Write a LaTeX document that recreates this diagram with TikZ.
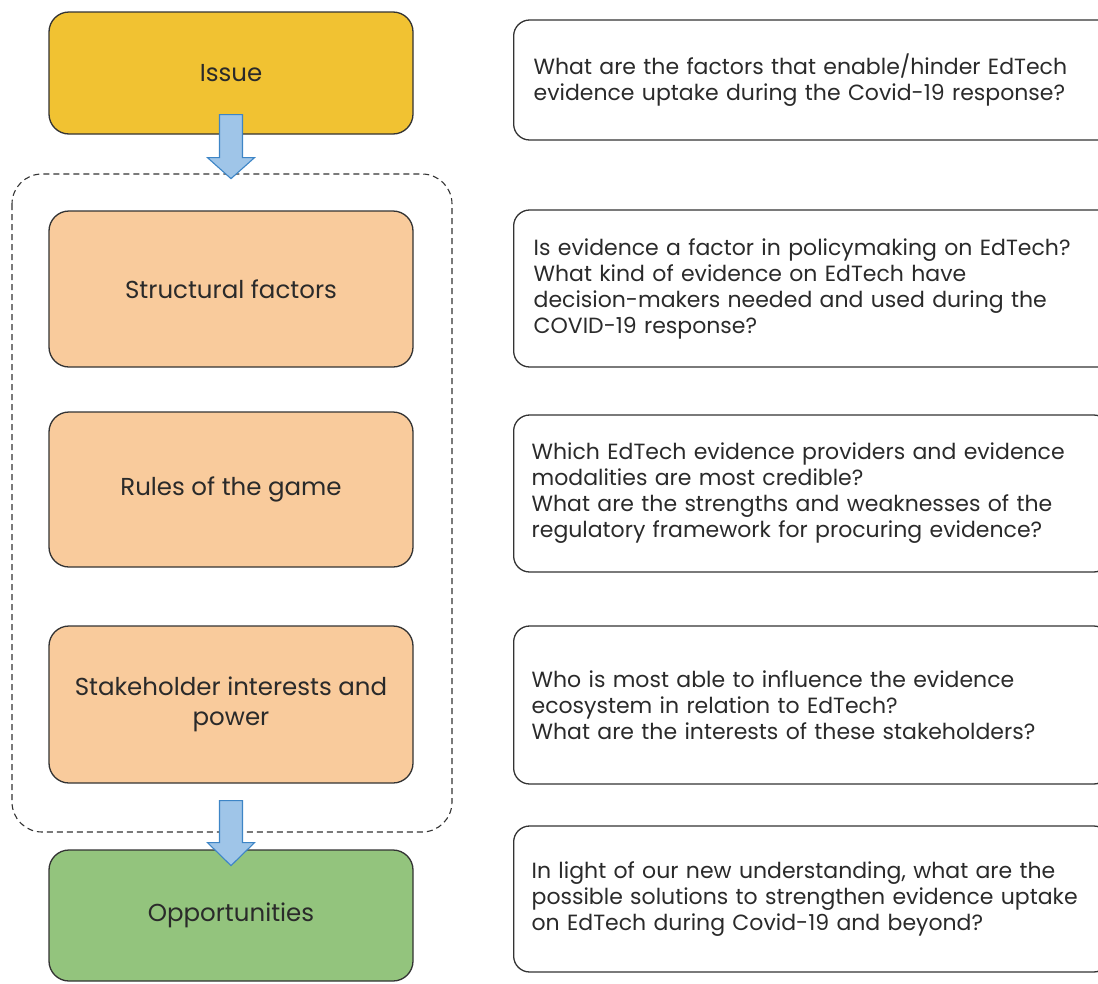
\documentclass[tikz,border=0pt]{standalone}
\usepackage{fontspec}
\setmainfont{Poppins}
\usetikzlibrary{calc}
\definecolor{issuecol}{HTML}{F1C232}
\definecolor{factcol}{HTML}{F9CB9C}
\definecolor{oppcol}{HTML}{93C47D}
\definecolor{arrfill}{HTML}{9FC5E8}
\definecolor{arrdraw}{HTML}{3D85C6}
\definecolor{txt}{HTML}{2A2A2A}
\definecolor{edge}{HTML}{333333}
\tikzset{
  leftbox/.style={draw=edge, line width=1.3pt, rounded corners=20pt, minimum width=364pt, inner sep=0pt, align=center, text=txt, font=\fontsize{24.5}{30}\selectfont},
  qbox/.style={draw=edge, line width=1.3pt, rounded corners=16pt, anchor=west, align=left, text width=560pt, inner xsep=20pt, inner ysep=0pt, text=txt, font=\fontsize{22}{26}\selectfont},
  blockarrow/.style={fill=arrfill, draw=arrdraw, line width=1.1pt, line join=miter},
  groupbox/.style={draw=edge, line width=1.1pt, dash pattern=on 6pt off 4pt, rounded corners=30pt}
}
\begin{document}
\begin{tikzpicture}[x=1pt,y=-1pt]
\useasboundingbox (0,0) rectangle (1098,983);
\clip (0,0) rectangle (1098,983);
% group box
\draw[groupbox] (12,174) rectangle (452,832);
% left boxes
\node[leftbox, fill=issuecol, minimum height=122pt] (issue) at (231,73) {Issue};
\node[leftbox, fill=factcol, minimum height=156pt] (struct) at (231,289) {Structural factors};
\node[leftbox, fill=factcol, minimum height=155pt] (rules) at (231,489.5) {Rules of the game};
\node[leftbox, fill=factcol, minimum height=157pt] (stake) at (231,704.5) {Stakeholder interests and\\power};
\node[leftbox, fill=oppcol, minimum height=131pt] (opp) at (231,915.5) {Opportunities};
% right boxes
\node[qbox, minimum height=120pt] (q1) at (513,80) {What are the factors that enable/hinder EdTech\\evidence uptake during the Covid-19 response?};
\node[qbox, minimum height=157pt] (q2) at (513,288.5) {Is evidence a factor in policymaking on EdTech?\\What kind of evidence on EdTech have\\decision-makers needed and used during the\\COVID-19 response?};
\node[qbox, minimum height=157pt, inner xsep=18pt] (q3) at (513,493.5) {Which EdTech evidence providers and evidence\\modalities are most credible?\\What are the strengths and weaknesses of the\\regulatory framework for procuring evidence?};
\node[qbox, minimum height=158pt, inner xsep=18pt] (q4) at (513,705) {Who is most able to influence the evidence\\ecosystem in relation to EdTech?\\What are the interests of these stakeholders?};
\node[qbox, minimum height=146pt, inner xsep=18pt] (q5) at (513,899) {In light of our new understanding, what are the\\possible solutions to strengthen evidence uptake\\on EdTech during Covid-19 and beyond?};
% arrows
\coordinate (a1) at ($(issue.south)+(0,-20)$);
\coordinate (a2) at ($(stake.south)+(0,17)$);
\draw[blockarrow] ($(a1)+(-11.5,0)$) -- ($(a1)+(11.5,0)$) -- ($(a1)+(11.5,43)$) -- ($(a1)+(23.5,43)$) -- ($(a1)+(0,64)$) -- ($(a1)+(-23.5,43)$) -- ($(a1)+(-11.5,43)$) -- cycle;
\draw[blockarrow] ($(a2)+(-11.5,0)$) -- ($(a2)+(11.5,0)$) -- ($(a2)+(11.5,42)$) -- ($(a2)+(23.5,42)$) -- ($(a2)+(0,65)$) -- ($(a2)+(-23.5,42)$) -- ($(a2)+(-11.5,42)$) -- cycle;
\end{tikzpicture}
\end{document}
